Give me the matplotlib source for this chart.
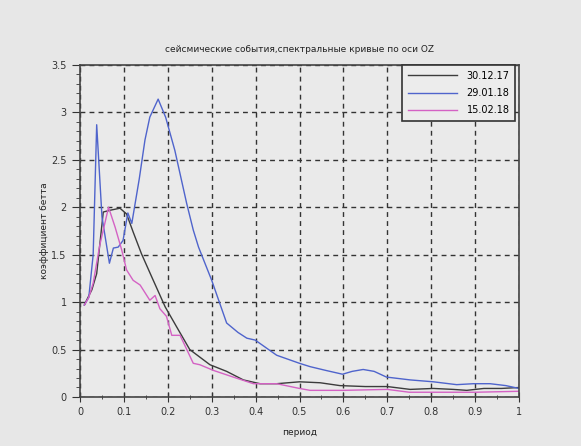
import numpy as np
import matplotlib.pyplot as plt
from matplotlib.ticker import MultipleLocator

# Spectral curves
x_1 = [0.01, 0.015, 0.027, 0.038, 0.053, 0.07, 0.091, 0.106, 0.121, 0.140, 0.163,
       0.194, 0.22, 0.25, 0.296, 0.334, 0.372, 0.41, 0.448, 0.50, 0.547, 0.592,
       0.65, 0.70, 0.752, 0.805, 0.85, 0.881, 0.92, 0.96, 1.0]
y_1 = [0.97, 1.02, 1.13, 1.30, 1.95, 1.97, 1.99, 1.93, 1.74, 1.51, 1.27,
       0.95, 0.74, 0.50, 0.34, 0.27, 0.18, 0.14, 0.14, 0.16, 0.15, 0.12,
       0.11, 0.11, 0.08, 0.09, 0.08, 0.07, 0.09, 0.09, 0.10]

x_2 = [0.01, 0.02, 0.03, 0.038, 0.05, 0.067, 0.076, 0.087, 0.098, 0.109, 0.118,
       0.135, 0.148, 0.159, 0.178, 0.195, 0.216, 0.243, 0.258, 0.27, 0.30, 0.334,
       0.36, 0.38, 0.399, 0.448, 0.50, 0.524, 0.56, 0.598, 0.62, 0.645, 0.67,
       0.698, 0.752, 0.805, 0.858, 0.896, 0.934, 0.97, 1.0]
y_2 = [0.97, 1.05, 1.5, 2.87, 1.9, 1.41, 1.57, 1.58, 1.65, 1.94, 1.83,
       2.3, 2.71, 2.95, 3.14, 2.95, 2.60, 2.04, 1.76, 1.58, 1.23, 0.78,
       0.68, 0.62, 0.60, 0.44, 0.355, 0.32, 0.28, 0.24, 0.27, 0.29, 0.27,
       0.21, 0.18, 0.16, 0.13, 0.14, 0.14, 0.12, 0.09]

x_3 = [0.01, 0.02, 0.03, 0.045, 0.065, 0.08, 0.095, 0.106, 0.121, 0.137, 0.159,
       0.171, 0.182, 0.197, 0.209, 0.228, 0.258, 0.273, 0.304, 0.349, 0.395,
       0.448, 0.50, 0.524, 0.6, 0.7, 0.75, 0.8, 0.9, 1.0]
y_3 = [0.97, 1.05, 1.2, 1.6, 2.0, 1.79, 1.55, 1.34, 1.23, 1.18, 1.02,
       1.07, 0.93, 0.85, 0.65, 0.65, 0.355, 0.34, 0.28, 0.21, 0.14,
       0.14, 0.09, 0.07, 0.07, 0.08, 0.05, 0.05, 0.05, 0.06]

labels = ["30.12.17", "29.01.18", "15.02.18"]
colors = ["#3c3c3c", "#4f64cc", "#d462c4"]

fig = plt.figure(figsize=(5.81, 4.46), dpi=100, facecolor="#e7e7e7")
ax = fig.add_axes([0.1377, 0.1099, 0.7556, 0.7444], facecolor="#eaeaea")

ax.plot(x_1, y_1, color=colors[0], lw=1.0, label=labels[0])
ax.plot(x_2, y_2, color=colors[1], lw=1.0, label=labels[1])
ax.plot(x_3, y_3, color=colors[2], lw=1.0, label=labels[2])

ax.set_xlim(0, 1)
ax.set_ylim(0, 3.5)
ax.xaxis.set_major_locator(MultipleLocator(0.1))
ax.xaxis.set_minor_locator(MultipleLocator(0.05))
ax.yaxis.set_major_locator(MultipleLocator(0.5))
ax.yaxis.set_minor_locator(MultipleLocator(0.1))
ax.xaxis.set_major_formatter(plt.FuncFormatter(lambda v, p: "%g" % round(v, 2)))
ax.yaxis.set_major_formatter(plt.FuncFormatter(lambda v, p: "%g" % round(v, 2)))

ax.grid(True, which="major", color="#333333", linestyle=(0, (3.5, 3)), lw=1.0)
ax.tick_params(axis="x", which="major", direction="inout", length=7, labelsize=7, colors="#333333")
ax.tick_params(axis="x", which="minor", direction="inout", length=3, colors="#333333")
ax.tick_params(axis="y", which="major", direction="out", length=6, labelsize=7, colors="#333333")
ax.tick_params(axis="y", which="minor", direction="out", length=3, colors="#333333")
for s in ax.spines.values():
    s.set_color("#444444")
    s.set_linewidth(1.2)

ax.set_title("сейсмические события,спектральные кривые по оси OZ", fontsize=6.5, color="#222222", pad=9)
ax.set_xlabel("период", fontsize=6.5, color="#222222", labelpad=8)
ax.set_ylabel("коэффициент бетта", fontsize=6.5, color="#222222", labelpad=2)

leg = ax.legend(loc="upper right", bbox_to_anchor=(0.992, 1.0), fontsize=7, frameon=True,
                fancybox=False, handlelength=5.0, borderaxespad=0, labelspacing=0.75,
                borderpad=0.6, handletextpad=1.0)
leg.get_frame().set_edgecolor("#333333")
leg.get_frame().set_linewidth(1.2)
leg.get_frame().set_facecolor("#ececec")
leg.get_frame().set_alpha(1)

fig.savefig("out.png", dpi=100, facecolor=fig.get_facecolor())
